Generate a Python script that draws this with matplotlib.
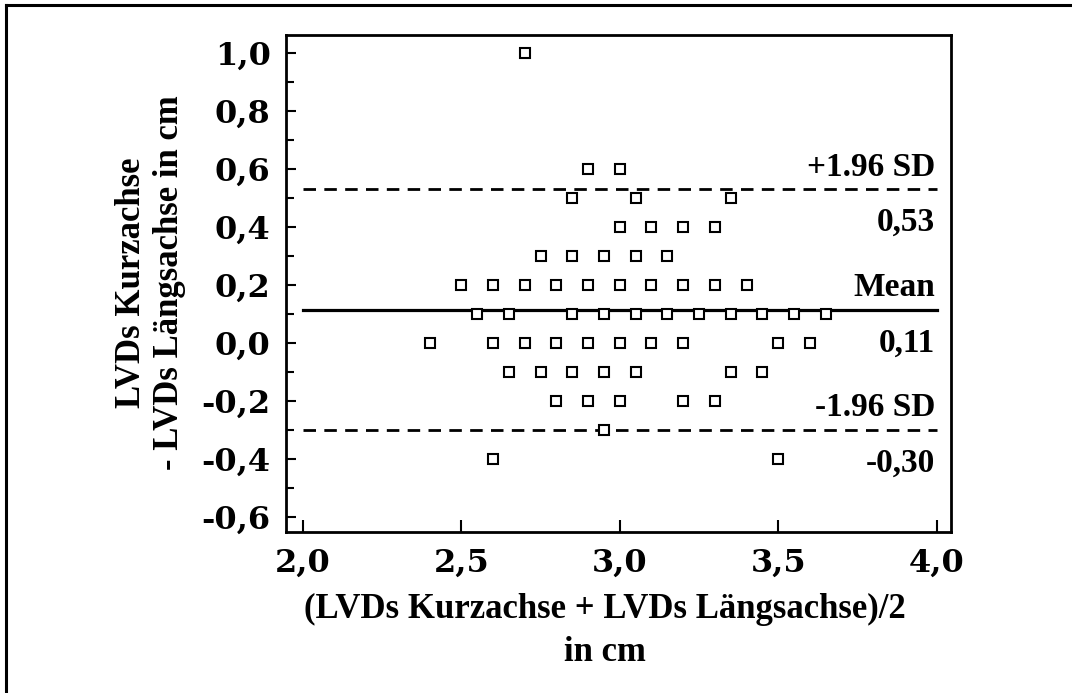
import matplotlib
matplotlib.use('Agg')
import matplotlib.pyplot as plt
from matplotlib.ticker import MultipleLocator, FuncFormatter

# Bland-Altman data: mean of both methods vs. difference (cm)
diff_levels = [1.0, 0.6, 0.5, 0.4, 0.3, 0.2, 0.1, 0.0, -0.1, -0.2, -0.3, -0.4]
means_per_level = [
    [2.7],
    [2.9, 3.0],
    [2.85, 3.05, 3.35],
    [3.0, 3.1, 3.2, 3.3],
    [2.75, 2.85, 2.95, 3.05, 3.15],
    [2.5, 2.6, 2.7, 2.8, 2.9, 3.0, 3.1, 3.2, 3.3, 3.4],
    [2.55, 2.65, 2.85, 2.95, 3.05, 3.15, 3.25, 3.35, 3.45, 3.55, 3.65],
    [2.4, 2.6, 2.7, 2.8, 2.9, 3.0, 3.1, 3.2, 3.5, 3.6],
    [2.65, 2.75, 2.85, 2.95, 3.05, 3.35, 3.45],
    [2.8, 2.9, 3.0, 3.2, 3.3],
    [2.95],
    [2.6, 3.5],
]

mean_diff = 0.115
upper_loa = 0.53
lower_loa = -0.30
line_labels = ['+1.96 SD', 'Mean', '-1.96 SD']
value_labels = ['0,53', '0,11', '-0,30']

xs, ys = [], []
for d, ms in zip(diff_levels, means_per_level):
    for m in ms:
        xs.append(m)
        ys.append(d)

serif = 'Liberation Serif'

fig = plt.figure(figsize=(10.72, 6.93), dpi=100)
ax = fig.add_axes([0.2668, 0.2323, 0.6203, 0.7172])

ax.plot(xs, ys, linestyle='none', marker='s', markersize=6.8,
        markerfacecolor='white', markeredgecolor='black', markeredgewidth=1.5, zorder=3)

ax.plot([2.0, 4.0], [mean_diff, mean_diff], color='black', lw=2.3, zorder=2)
for v in (upper_loa, lower_loa):
    ax.plot([2.0, 4.0], [v, v], color='black', lw=2.0, dashes=(4.5, 3), zorder=2)

for v, top, bot in zip([upper_loa, mean_diff, lower_loa], line_labels, value_labels):
    ax.annotate(top, xy=(3.995, v), xytext=(0, 16), textcoords='offset points',
                ha='right', va='center', fontsize=24, fontweight='bold', family=serif)
    ax.annotate(bot, xy=(3.995, v), xytext=(0, -24), textcoords='offset points',
                ha='right', va='center', fontsize=24, fontweight='bold', family=serif)

ax.set_xlim(1.947, 4.045)
ax.set_ylim(-0.652, 1.062)
ax.xaxis.set_major_locator(MultipleLocator(0.5))
ax.yaxis.set_major_locator(MultipleLocator(0.2))
ax.yaxis.set_minor_locator(MultipleLocator(0.1))
fmt = FuncFormatter(lambda v, p: f'{v:.1f}'.replace('.', ',').replace('-0,0', '0,0'))
ax.xaxis.set_major_formatter(fmt)
ax.yaxis.set_major_formatter(fmt)

ax.tick_params(axis='x', which='major', direction='in', length=9, width=1.5, pad=11,
               top=False)
ax.tick_params(axis='y', which='major', direction='in', length=7, width=1.5, pad=11,
               right=False)
ax.tick_params(axis='y', which='minor', direction='in', length=6, width=1.5, right=False)
for lab in ax.get_xticklabels() + ax.get_yticklabels():
    lab.set_fontfamily('DejaVu Serif')
    lab.set_fontweight('bold')
    lab.set_fontsize(23)

for s in ax.spines.values():
    s.set_linewidth(2.0)

fig.text(0.14, 0.5916, 'LVDs Kurzachse\n- LVDs Längsachse in cm', rotation=90,
         ha='center', va='center', multialignment='center',
         fontsize=25, fontweight='bold', family=serif)
fig.text(0.564, 0.089, '(LVDs Kurzachse + LVDs Längsachse)/2\nin cm',
         ha='center', va='center', multialignment='center',
         fontsize=25, fontweight='bold', family=serif, linespacing=1.4)

# outer frame (left and top edges only)
fig.add_artist(plt.Line2D([0.0056, 0.0056], [0, 0.9928], transform=fig.transFigure,
                          color='black', lw=2.2))
fig.add_artist(plt.Line2D([0.0056, 1.0], [0.9928, 0.9928], transform=fig.transFigure,
                          color='black', lw=2.2))

fig.savefig('out.png', dpi=100)
plt.close(fig)
